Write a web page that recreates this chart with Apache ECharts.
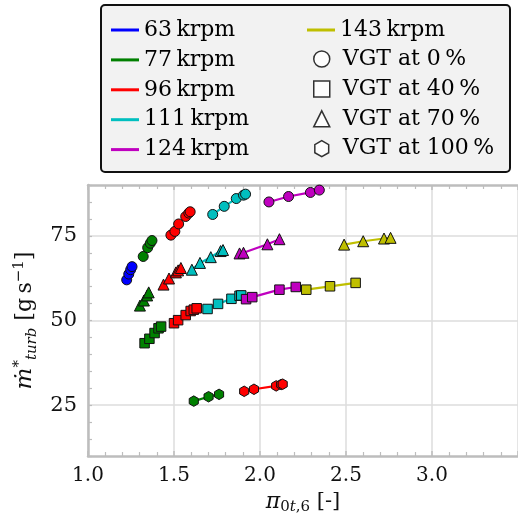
<!DOCTYPE html>
<html><head><meta charset="utf-8">
<script src="https://cdn.jsdelivr.net/npm/echarts@6/dist/echarts.min.js"></script>
<style>html,body{margin:0;padding:0;background:#fff}#c{width:518px;height:524px}</style>
</head><body><div id="c"></div>
<script>
// ---- labels / ticks ----
const speeds = ['63\u2009krpm', '77\u2009krpm', '96\u2009krpm', '111\u2009krpm', '124\u2009krpm', '143\u2009krpm'];
const vgtLabels = ['VGT at 0\u2009%', 'VGT at 40\u2009%', 'VGT at 70\u2009%', 'VGT at 100\u2009%'];
const xTicks = [1.0, 1.5, 2.0, 2.5, 3.0];
const yTicks = [25, 50, 75];

// ---- data: [pressure ratio, corrected mass flow] per speed line & VGT position ----
const s63_v0 = [[1.225, 62.0], [1.237, 63.7], [1.248, 65.0], [1.256, 65.9]];
const s77_v0 = [[1.321, 68.9], [1.347, 71.5], [1.362, 72.8], [1.372, 73.6]];
const s77_v40 = [[1.329, 43.3], [1.357, 44.6], [1.387, 46.3], [1.410, 47.7], [1.425, 48.2]];
const s77_v70 = [[1.302, 54.4], [1.325, 55.9], [1.344, 57.4], [1.353, 58.3]];
const s77_v100 = [[1.615, 26.2], [1.701, 27.5], [1.762, 28.2]];
const s96_v0 = [[1.482, 75.2], [1.505, 76.3], [1.527, 78.5], [1.568, 80.7], [1.586, 81.7], [1.594, 82.1]];
const s96_v40 = [[1.500, 49.2], [1.524, 50.1], [1.568, 51.6], [1.597, 52.8], [1.615, 53.2], [1.632, 53.6]];
const s96_v70 = [[1.439, 60.6], [1.471, 62.4], [1.511, 64.2], [1.524, 64.8], [1.540, 65.5]];
const s96_v100 = [[1.908, 29.1], [1.965, 29.7], [2.094, 30.7], [2.123, 31.1], [2.132, 31.2]];
const s111_v0 = [[1.725, 81.3], [1.792, 83.7], [1.862, 86.0], [1.904, 87.0], [1.916, 87.3]];
const s111_v40 = [[1.695, 53.4], [1.756, 54.9], [1.834, 56.4], [1.881, 57.3], [1.891, 57.4]];
const s111_v70 = [[1.604, 65.0], [1.651, 67.0], [1.714, 68.7], [1.771, 70.5], [1.785, 70.8]];
const s124_v0 = [[2.052, 85.0], [2.166, 86.6], [2.293, 87.8], [2.345, 88.5]];
const s124_v40 = [[1.919, 56.3], [1.955, 56.9], [2.113, 59.1], [2.208, 59.9]];
const s124_v70 = [[1.881, 69.8], [1.904, 70.0], [2.043, 72.5], [2.113, 74.0]];
const s143_v40 = [[2.269, 59.1], [2.407, 60.1], [2.556, 61.1]];
const s143_v70 = [[2.489, 72.4], [2.600, 73.4], [2.721, 74.2], [2.759, 74.4]];

// [speed index, vgt index, points]
const groups = [
  [0, 0, s63_v0],
  [1, 0, s77_v0], [1, 1, s77_v40], [1, 2, s77_v70], [1, 3, s77_v100],
  [2, 0, s96_v0], [2, 1, s96_v40], [2, 2, s96_v70], [2, 3, s96_v100],
  [3, 0, s111_v0], [3, 1, s111_v40], [3, 2, s111_v70],
  [4, 0, s124_v0], [4, 1, s124_v40], [4, 2, s124_v70],
  [5, 1, s143_v40], [5, 2, s143_v70]
];

// ---- styles ----
const colors = ['#0000ff', '#008000', '#ff0000', '#00bfbf', '#bf00bf', '#bfbf00'];
const hexagon = 'path://M0,-1L0.866,-0.5L0.866,0.5L0,1L-0.866,0.5L-0.866,-0.5Z';
const symbols = ['circle', 'rect', 'triangle', hexagon];
const symbolSizes = [10, 9.5, 11, 10.5];
const FONT = 'DejaVu Serif';
const AX = '#bdbdbd';

const series = groups.map(([si, vi, pts]) => ({
  type: 'line', name: speeds[si], data: pts,
  symbol: symbols[vi], symbolSize: symbolSizes[vi], symbolKeepAspect: true,
  lineStyle: { color: colors[si], width: 2.2 },
  itemStyle: { color: colors[si], borderColor: '#111', borderWidth: 1 },
  emphasis: { disabled: true }, z: 3, animation: false
}));
vgtLabels.forEach((n, i) => series.push({
  type: 'scatter', name: n, data: [], symbol: symbols[i],
  itemStyle: { color: '#fff', borderColor: '#000', borderWidth: 1.5 }, animation: false
}));

const legendText = { fontFamily: FONT, fontSize: 22, color: '#000' };
const chart = echarts.init(document.getElementById('c'), null, { renderer: 'canvas' });
chart.setOption({
  animation: false,
  backgroundColor: '#fff',
  grid: { left: 88, top: 185, width: 439, height: 271, containLabel: false },
  graphic: [{
    type: 'rect', shape: { x: 101, y: 5, width: 409, height: 167, r: 4 },
    style: { fill: '#f2f2f2', stroke: '#111', lineWidth: 2 }, z: 0
  }],
  legend: [
    {
      left: 111, top: 19, orient: 'vertical', padding: 0, itemGap: 7.9,
      itemWidth: 28, itemHeight: 3, selectedMode: false,
      itemStyle: { borderWidth: 0 }, textStyle: legendText,
      data: speeds.slice(0, 5).map(n => ({ name: n, icon: 'rect' }))
    },
    {
      left: 307, top: 19, orient: 'vertical', padding: 0, itemGap: 7.9,
      itemWidth: 28, itemHeight: 3, selectedMode: false,
      itemStyle: { borderWidth: 0 }, textStyle: legendText,
      data: speeds.slice(5).map(n => ({ name: n, icon: 'rect' }))
    },
    {
      left: 313, top: 48, orient: 'vertical', padding: 0, itemGap: 7.9,
      itemWidth: 16, itemHeight: 16, selectedMode: false,
      itemStyle: { color: '#fff', borderColor: '#000', borderWidth: 1.5 },
      textStyle: Object.assign({ padding: [0, 0, 0, 8] }, legendText),
      data: vgtLabels.map((n, i) => ({ name: n, icon: symbols[i] }))
    }
  ],
  xAxis: [
    {
      type: 'value', position: 'bottom', min: 1, max: 3.5, interval: 0.5,
      axisLine: { show: true, lineStyle: { color: AX, width: 2.5 } },
      axisTick: { show: true, inside: true, length: 5, lineStyle: { color: AX, width: 1.5 } },
      minorTick: { show: true, splitNumber: 5, length: 4, lineStyle: { color: AX, width: 1.2 } },
      splitLine: { show: true, lineStyle: { color: '#dcdcdc', width: 1.5 } },
      axisLabel: { customValues: xTicks, formatter: v => v.toFixed(1), fontFamily: FONT, fontSize: 20, color: '#111', margin: 10 },
      name: '{i|π}{s|0}{si|t}{s|,6}{n| [-]}', nameLocation: 'middle', nameGap: 31,
      nameTextStyle: {
        color: '#111', fontFamily: FONT,
        rich: {
          i: { fontFamily: FONT, fontStyle: 'italic', fontSize: 22, lineHeight: 26, color: '#111' },
          n: { fontFamily: FONT, fontSize: 21, lineHeight: 26, color: '#111' },
          s: { fontFamily: FONT, fontSize: 15, lineHeight: 16, verticalAlign: 'bottom', color: '#111' },
          si: { fontFamily: FONT, fontSize: 15, fontStyle: 'italic', lineHeight: 16, verticalAlign: 'bottom', color: '#111' }
        }
      }
    },
    {
      type: 'value', position: 'top', min: 1, max: 3.5, interval: 0.5,
      axisLine: { show: true, lineStyle: { color: AX, width: 2.5 } },
      axisTick: { show: true, inside: true, length: 5, lineStyle: { color: AX, width: 1.5 } },
      minorTick: { show: true, splitNumber: 5, length: 4, lineStyle: { color: AX, width: 1.2 } },
      splitLine: { show: false }, axisLabel: { show: false }
    }
  ],
  yAxis: [
    {
      type: 'value', position: 'left', min: 10, max: 90, interval: 5,
      axisLine: { show: true, lineStyle: { color: AX, width: 2.5 } },
      axisTick: { show: true, inside: true, length: 4, lineStyle: { color: AX, width: 1.2 } },
      splitLine: { show: false },
      axisLabel: { customValues: yTicks, fontFamily: FONT, fontSize: 21, color: '#111', margin: 11 },
      name: '{i|ṁ}{sup|*}{sub|turb}{n| [g\u2009s}{sup|−1}{n|]}', nameLocation: 'middle', nameGap: 45,
      nameTextStyle: {
        color: '#111', fontFamily: FONT,
        rich: {
          i: { fontFamily: FONT, fontStyle: 'italic', fontSize: 23, lineHeight: 28, color: '#111' },
          n: { fontFamily: FONT, fontSize: 22, lineHeight: 28, color: '#111' },
          sup: { fontFamily: FONT, fontSize: 15, lineHeight: 14, verticalAlign: 'top', color: '#111' },
          sub: { fontFamily: FONT, fontSize: 15, fontStyle: 'italic', lineHeight: 16, verticalAlign: 'bottom', color: '#111' }
        }
      }
    },
    {
      type: 'value', position: 'left', min: 10, max: 90, interval: 5,
      axisLine: { show: false },
      axisTick: { show: false, customValues: yTicks },
      axisLabel: { show: false },
      splitLine: { show: true, lineStyle: { color: '#dcdcdc', width: 1.5 } }
    }
  ],
  series: series
});
</script></body></html>
